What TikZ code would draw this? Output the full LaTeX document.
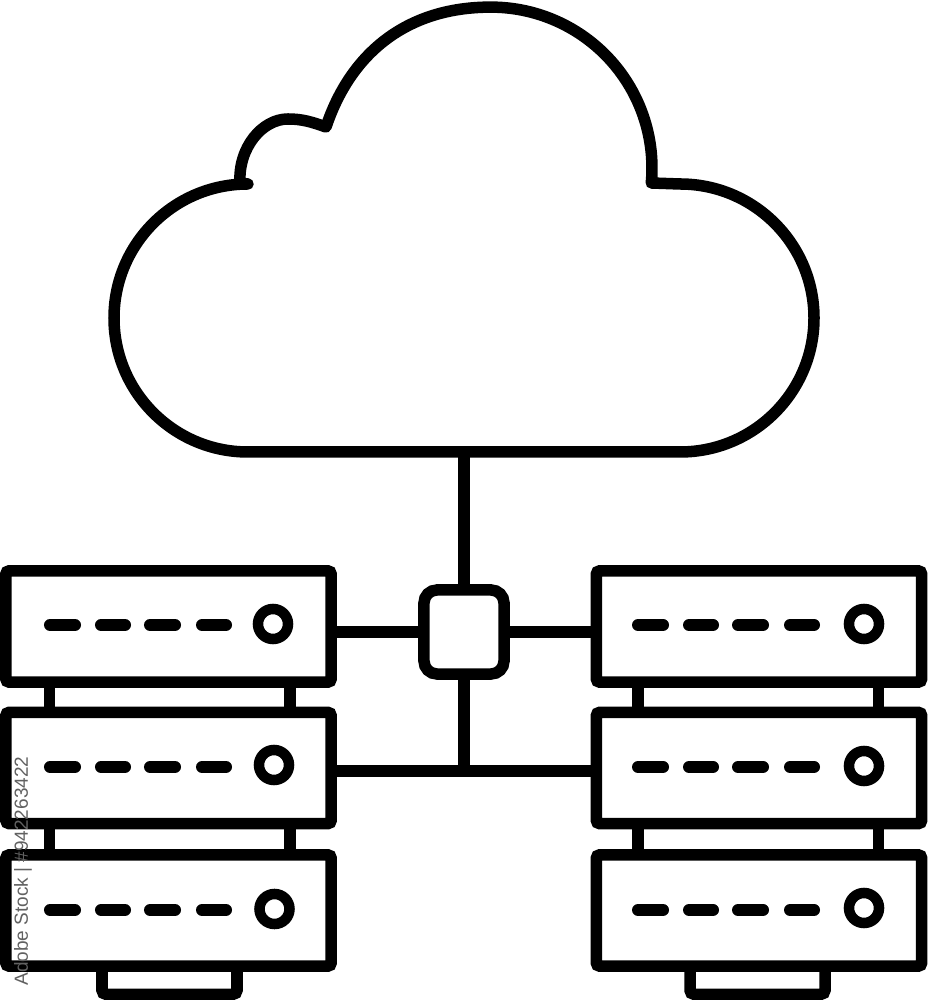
\documentclass[tikz,border=0pt]{standalone}
\usepackage{fontspec}
\setmainfont{Liberation Sans}
\usetikzlibrary{calc}
\tikzset{
	wire/.style={line width=0.115cm},
	serverbox/.style={draw, line width=0.115cm, rounded corners=0.03cm, inner sep=0pt, minimum width=3.25cm, minimum height=1.11cm},
	switchbox/.style={draw, line width=0.115cm, rounded corners=0.13cm, inner sep=0pt, minimum width=0.8cm, minimum height=0.84cm},
	ledbar/.style={line width=0.12cm, line cap=round},
	knob/.style={draw, circle, line width=0.105cm, inner sep=0pt, minimum size=0.3cm}
}
\def\ledrow(#1,#2){\draw[ledbar] (#1+6,#2) -- ++(25,0) ++(26,0) -- ++(24,0) ++(25,0) -- ++(25,0) ++(27,0) -- ++(24,0);}
\def\rackpost(#1)(#2)(#3){\draw[wire] ($(#1.south)+(#3,0)$) -- ($(#2.north)+(#3,0)$);}
\def\rackfoot(#1)(#2){\draw[wire, rounded corners=0.04cm] ($(#1.south)+(#2-67.5,0)$) -- ++(0,-22.5) -- ++(135,0) -- ++(0,22.5);}

\begin{document}
\begin{tikzpicture}[x=0.01cm, y=0.01cm]
		\useasboundingbox (0, 0) rectangle (928, 1000);
		%%%%% CLOUD %%%%%
		
		\draw[wire, line join=round] (248, 548) -- (680, 548) arc (-90:90:134) -- (651.3, 817)
			arc (-5.3:90:161)
			.. controls (405, 993) and (350, 945) .. (326, 873)
			.. controls (312, 878) and (302, 881) .. (288, 881)
			.. controls (262, 881) and (238, 852) .. (240, 817)
			-- (248, 816) arc (90:270:134) -- cycle;
		\coordinate (cloudBase) at (464, 548);
		
		%%%%% SERVERS %%%%%
		
		\node[serverbox] (srvLa) at (168.5, 373.5) {};
		\node[serverbox] (srvLb) at (168.5, 232) {};
		\node[serverbox] (srvLc) at (168.5, 89.5) {};
		\node[serverbox] (srvRa) at (759, 373.5) {};
		\node[serverbox] (srvRb) at (759, 232) {};
		\node[serverbox] (srvRc) at (759, 89.5) {};
		
		\rackpost(srvLa)(srvLb)(-119);
		\rackpost(srvLa)(srvLb)(121.5);
		\rackpost(srvLb)(srvLc)(-119);
		\rackpost(srvLb)(srvLc)(121.5);
		\rackpost(srvRa)(srvRb)(-121);
		\rackpost(srvRa)(srvRb)(119.5);
		\rackpost(srvRb)(srvRc)(-121);
		\rackpost(srvRb)(srvRc)(119.5);
		\rackfoot(srvLc)(1);
		\rackfoot(srvRc)(-1.5);
		
		\ledrow(44, 375);
		\ledrow(44, 233);
		\ledrow(44, 90);
		\ledrow(632, 375);
		\ledrow(632, 233);
		\ledrow(632, 90);
		
		\node[knob] (knobLa) at (273, 376) {};
		\node[knob] (knobLb) at (274, 235) {};
		\node[knob] (knobLc) at (274.5, 91) {};
		\node[knob] (knobRa) at (864, 376) {};
		\node[knob] (knobRb) at (864, 234) {};
		\node[knob] (knobRc) at (864, 92) {};
		
		%%%%% SWITCH %%%%%
		
		\node[switchbox] (sw) at (464, 368) {};
		\coordinate (junction) at (464, 229);
		
		\draw[wire] (cloudBase) -- (sw.north);
		\draw[wire] (sw.south) -- (junction);
		\draw[wire] (srvLa.east |- sw.west) -- (sw.west);
		\draw[wire] (sw.east) -- (srvRa.west |- sw.east);
		\draw[wire] (srvLb.east |- junction) -- (srvRb.west |- junction);
		
		%%%%% STAMP %%%%%
		
		\node[rotate=90, text=black!62, font=\fontsize{5.4pt}{6pt}\selectfont, inner sep=0pt] (stamp) at (23, 129) {Adobe Stock | \#942263422};
		
		%%%%% END %%%%%
	\end{tikzpicture}
\end{document}
